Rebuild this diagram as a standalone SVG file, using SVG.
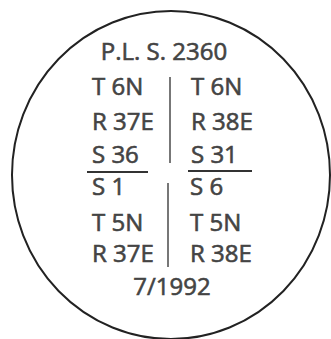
<svg xmlns="http://www.w3.org/2000/svg" width="331" height="339" viewBox="0 0 331 339">
<style>
text{font-family:"Open Sans","Liberation Sans",sans-serif;font-size:24px;fill:#444;stroke:#444;stroke-width:0.6}
.c{text-anchor:middle}
.ln{stroke:#333;stroke-width:1.8;fill:none}
.vl{stroke:#555;stroke-width:1.6;fill:none}
</style>
<rect width="331" height="339" fill="#fff"/>
<g id="seal">
<ellipse cx="171" cy="175" rx="159" ry="164" fill="none" stroke="#222" stroke-width="2"/>
</g>
<g id="header"><text class="c" x="164" y="60">P.L. S. 2360</text></g>
<g id="left-top">
<text x="92" y="95">T 6N</text>
<text x="92" y="130">R 37E</text>
<text x="92" y="163">S 36</text>
</g>
<g id="right-top">
<text x="191" y="95">T 6N</text>
<text x="191" y="130">R 38E</text>
<text x="191" y="163">S 31</text>
</g>
<g id="left-bottom">
<text x="92" y="195">S 1</text>
<text x="92" y="231">T 5N</text>
<text x="92" y="262">R 37E</text>
</g>
<g id="right-bottom">
<text x="190" y="195">S 6</text>
<text x="190" y="231">T 5N</text>
<text x="190" y="262">R 38E</text>
</g>
<g id="date"><text class="c" x="172" y="295">7/1992</text></g>
<g id="connectors">
<line class="vl" x1="170" y1="77" x2="170" y2="163"/>
<line class="vl" x1="168" y1="183" x2="168" y2="267"/>
<line class="ln" x1="87" y1="172" x2="148" y2="172"/>
<line class="ln" x1="188" y1="171" x2="252" y2="171"/>
</g>
</svg>
